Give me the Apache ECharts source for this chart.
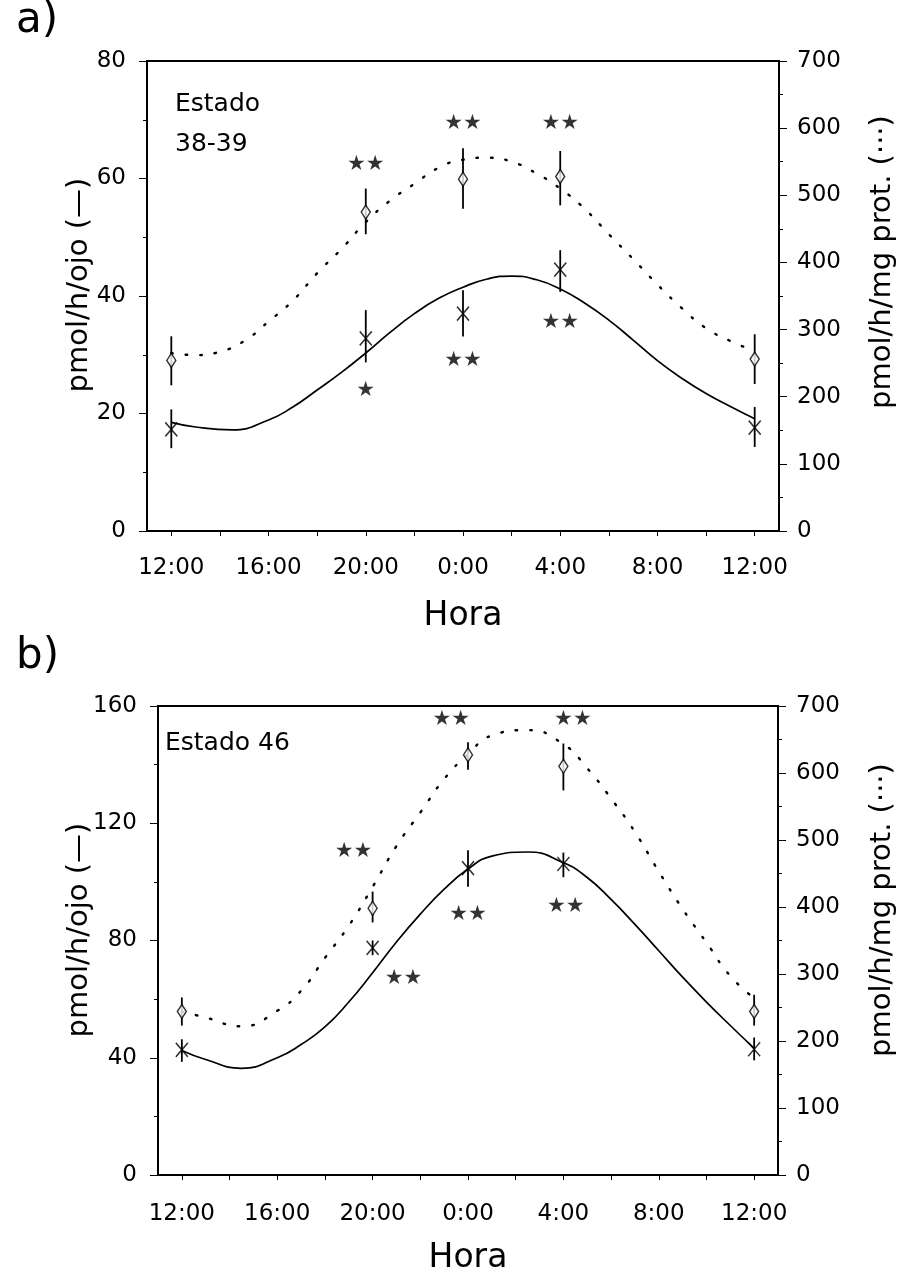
<!DOCTYPE html>
<html>
<head>
<meta charset="utf-8">
<script src="https://cdn.jsdelivr.net/npm/echarts@6/dist/echarts.min.js"></script>
<style>
  html, body { margin: 0; padding: 0; background: #fff; }
  #chart { width: 906px; height: 1278px; }
</style>
</head>
<body>
<div id="chart"></div>
<script>
// horas contadas desde las 12:00
var hours = [0, 1, 2, 3, 4, 5, 6, 7, 8, 9, 10, 11, 12, 13, 14, 15, 16, 17, 18, 19, 20, 21, 22, 23, 24];
var hoursA = [0, 1, 2.5, 4, 5, 6, 7, 8, 9, 10, 11, 12, 13, 14, 15, 16, 17, 18, 19, 20, 21, 22, 23, 24];
var hoursB = [0, 1, 2.5, 4, 5, 6, 7, 8, 9, 10, 11, 12, 13, 14.5, 16, 17, 18, 19, 20, 21, 22, 23, 24];
var tickHours = [0, 2, 4, 6, 8, 10, 12, 14, 16, 18, 20, 22, 24];
var labelHours = [0, 4, 8, 12, 16, 20, 24];
var hourLabels = ['12:00', '16:00', '20:00', '0:00', '4:00', '8:00', '12:00'];
var tMeas = [0, 8, 12, 16, 24];

// a) Estado 38-39
var fitA = [18.5, 17.7, 17.2, 18.9, 21.1, 24, 27, 30.3, 33.8, 37, 39.6, 41.5, 42.9, 43.4, 42.8, 41.2, 38.8, 35.9, 32.5, 29, 26, 23.4, 21.2, 19.1];
var dotA = [265, 262, 267, 283, 312, 343, 384, 420, 460, 492, 517, 541, 553, 556, 550, 533, 510, 480, 442, 405, 367, 332, 302, 283, 268];
var crossA = [17.3, 32.8, 37, 44.5, 17.6];
var crossAErr = [[14.1, 20.7], [28.7, 37.6], [33.1, 41.0], [40.7, 47.8], [14.3, 21.1]];
var diamA = [254, 475, 524, 528, 256];
var diamAErr = [[217, 290], [442, 510], [480, 570], [485, 566], [219, 293]];
var starsA = [[8, 62.4, '★★'], [12, 69.4, '★★'], [16, 69.4, '★★'], [8, 23.9, '★'], [12, 29, '★★'], [16, 35.5, '★★']];

// b) Estado 46
var fitB = [42.5, 39.4, 36.4, 40, 44.5, 50.5, 59, 69, 79.5, 89, 97.5, 104.4, 108.8, 110.2, 106.5, 101.5, 94, 85.5, 76.5, 67.5, 59, 51, 43.2];
var dotB = [244, 235, 222, 245, 275, 324, 372, 430, 491, 541, 591, 628, 656, 664, 643, 607, 562, 512, 453, 397, 347, 297, 264];
var crossB = [42.7, 77.5, 104.7, 106.1, 42.9];
var crossBErr = [[38.6, 46.3], [75, 80], [98.3, 110.8], [101.6, 110], [39.1, 46.9]];
var diamB = [244, 398, 627, 610, 244];
var diamBErr = [[223, 265], [377, 423], [605, 646], [574, 644], [223, 269]];
var starsB = [[7.2, 110.5, '★★'], [11.3, 155.5, '★★'], [16.4, 155.5, '★★'], [12, 89, '★★'], [16.1, 91.5, '★★'], [9.3, 67, '★★']];

var FONT = 'DejaVu Sans';
var CROSS = 'path://M0,0L10,12M10,0L0,12';
var NAME_L = 'pmol/h/ojo (—)';
var NAME_R = 'pmol/h/mg prot. (···)';

var pairs = function (xs, ys) {
    var out = [], i;
    for (i = 0; i < xs.length; i++) { out.push([xs[i], ys[i]]); }
    return out;
};

var errData = function (errs) {
    var out = [], i;
    for (i = 0; i < errs.length; i++) { out.push([tMeas[i], errs[i][0], errs[i][1]]); }
    return out;
};

var errSeries = function (xi, yi, errs) {
    return {
        type: 'custom', xAxisIndex: xi, yAxisIndex: yi, z: 3,
        data: errData(errs),
        renderItem: function (params, api) {
            var lo = api.coord([api.value(0), api.value(1)]);
            var hi = api.coord([api.value(0), api.value(2)]);
            return {
                type: 'line',
                shape: { x1: lo[0], y1: lo[1], x2: hi[0], y2: hi[1] },
                style: { stroke: '#000', lineWidth: 1.8 }
            };
        }
    };
};

var xAxisFor = function (gi, margin, gap) {
    return {
        gridIndex: gi, type: 'value', min: -1, max: 25,
        axisLine: { show: true, onZero: false, lineStyle: { color: '#000', width: 2 } },
        axisTick: { show: true, customValues: tickHours, length: 5, lineStyle: { color: '#000', width: 1 } },
        axisLabel: {
            customValues: labelHours, color: '#000', fontFamily: FONT, fontSize: 23, margin: margin,
            formatter: function (v) { return hourLabels[labelHours.indexOf(v)]; }
        },
        splitLine: { show: false },
        name: 'Hora', nameLocation: 'middle', nameGap: gap, nameMoveOverlap: false,
        nameTextStyle: { color: '#000', fontFamily: FONT, fontSize: 33 }
    };
};

var yAxisFor = function (gi, pos, max, interval) {
    return {
        gridIndex: gi, type: 'value', position: pos, min: 0, max: max, interval: interval,
        axisLine: { show: true, onZero: false, lineStyle: { color: '#000', width: 1.5 } },
        axisTick: { show: true, length: 8, lineStyle: { color: '#000', width: 1 } },
        minorTick: { show: true, splitNumber: 2, length: 4, lineStyle: { color: '#000', width: 1 } },
        axisLabel: { color: '#000', fontFamily: FONT, fontSize: 23, margin: pos === 'left' ? 21 : 18 },
        splitLine: { show: false }
    };
};

var panelSeries = function (gi, fitX, fit, dotX, dot, cross, crossErr, diam, diamErr, stars) {
    var yl = gi * 2, yr = gi * 2 + 1;
    return [
        {
            type: 'line', xAxisIndex: gi, yAxisIndex: yl, data: pairs(fitX, fit),
            smooth: 0.5, showSymbol: false, z: 2,
            lineStyle: { color: '#000', width: 1.7 }
        },
        {
            type: 'line', xAxisIndex: gi, yAxisIndex: yr, data: pairs(dotX, dot),
            smooth: 0.5, showSymbol: false, z: 2,
            lineStyle: { color: '#000', width: 2.4, type: [1.5, 13], cap: 'round' }
        },
        errSeries(gi, yl, crossErr),
        errSeries(gi, yr, diamErr),
        {
            type: 'scatter', xAxisIndex: gi, yAxisIndex: yl, data: pairs(tMeas, cross), z: 4,
            symbol: CROSS, symbolSize: [12, 14],
            itemStyle: { color: 'none', borderColor: '#000', borderWidth: 1.6 }
        },
        {
            type: 'scatter', xAxisIndex: gi, yAxisIndex: yr, data: pairs(tMeas, diam), z: 4,
            symbol: 'diamond', symbolSize: [9, 14],
            itemStyle: { color: '#fff', borderColor: '#000', borderWidth: 1.5 }
        },
        {
            type: 'scatter', xAxisIndex: gi, yAxisIndex: yl, data: stars, z: 5,
            symbolSize: 0, silent: true,
            label: {
                show: true, position: 'inside', color: '#000', fontFamily: FONT, fontSize: 21,
                formatter: function (p) { return p.data[2]; }
            }
        }
    ];
};

var axisName = function (text, x, y) {
    return {
        type: 'text', x: x, y: y, rotation: Math.PI / 2,
        style: { text: text, font: '29px "DejaVu Sans"', fill: '#000', align: 'center', verticalAlign: 'middle' }
    };
};

var chart = echarts.init(document.getElementById('chart'), null, { renderer: 'canvas' });

chart.setOption({
    backgroundColor: '#fff',
    animation: false,
    grid: [
        { left: 147, width: 632, top: 61, height: 470, show: true, borderColor: '#000', borderWidth: 2, backgroundColor: 'transparent' },
        { left: 158, width: 620, top: 706, height: 469, show: true, borderColor: '#000', borderWidth: 2, backgroundColor: 'transparent' }
    ],
    xAxis: [xAxisFor(0, 26, 69), xAxisFor(1, 28, 67)],
    yAxis: [
        yAxisFor(0, 'left', 80, 20),
        yAxisFor(0, 'right', 700, 100),
        yAxisFor(1, 'left', 160, 40),
        yAxisFor(1, 'right', 700, 100)
    ],
    series: [].concat(
        panelSeries(0, hoursA, fitA, hours, dotA, crossA, crossAErr, diamA, diamAErr, starsA),
        panelSeries(1, hoursB, fitB, hoursB, dotB, crossB, crossBErr, diamB, diamBErr, starsB)
    ),
    graphic: [
        { type: 'text', left: 16, top: 0, style: { text: 'a)', font: '42px "DejaVu Sans"', fill: '#000' } },
        { type: 'text', left: 16, top: 636, style: { text: 'b)', font: '42px "DejaVu Sans"', fill: '#000' } },
        { type: 'text', left: 175, top: 84, style: { text: 'Estado\n38-39', font: '25px "DejaVu Sans"', lineHeight: 40, fill: '#000' } },
        { type: 'text', left: 165, top: 731, style: { text: 'Estado 46', font: '25px "DejaVu Sans"', fill: '#000' } },
        axisName(NAME_L, 79, 285),
        axisName(NAME_R, 882, 262),
        axisName(NAME_L, 79, 930),
        axisName(NAME_R, 882, 910)
    ]
});
</script>
</body>
</html>
